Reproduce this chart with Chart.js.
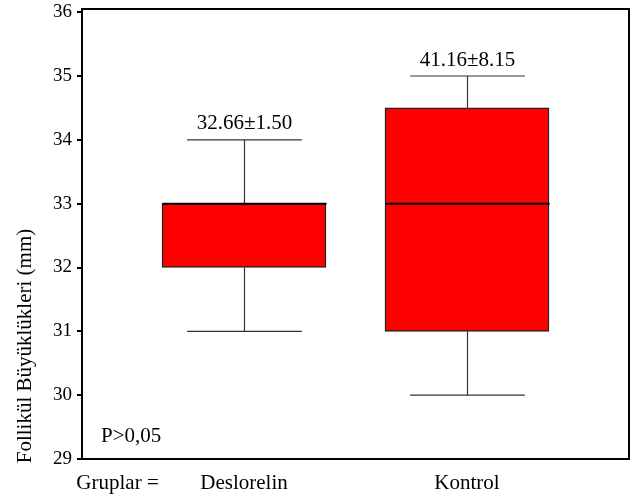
<!DOCTYPE html>
<html>
<head>
<meta charset="utf-8">
<script src="https://cdn.jsdelivr.net/npm/chart.js@4/dist/chart.umd.min.js"></script>
<style>
  html, body { margin: 0; padding: 0; background: #fff; }
  #wrap { width: 632px; height: 498px; }
</style>
</head>
<body>
<div id="wrap"><canvas id="boxChart" width="632" height="498"></canvas></div>
<script>
// Data
const groups = ['Deslorelin', 'Kontrol'];
const groupPos = [1, 2];
const groupPrefix = 'Gruplar =';
const prefixPos = 0.433;
const whiskerLow = [31, 30];
const quart1 = [32, 31];
const medians = [33, 33];
const quart3 = [33, 34.5];
const whiskerHigh = [34, 35];
const meanLabels = ['32.66\u00b11.50', '41.16\u00b18.15'];
const yTicks = [29, 30, 31, 32, 33, 34, 35, 36];
const yTitle = 'Follikül Büyüklükleri (mm)';
const pNote = 'P>0,05';

const FONT = '"Liberation Serif", "Times New Roman", serif';
const BOX_W = 164;

// whiskers, caps, medians, the mean±sd labels and frame
const boxExtras = {
    id: 'boxExtras',
    afterDatasetsDraw(chart) {
        const { ctx, chartArea, scales: { x, y } } = chart;
        ctx.save();

        groupPos.forEach((pos, i) => {
            const cx = Math.round(x.getPixelForValue(pos)) + 0.5;
            const capHalf = BOX_W * 0.35;
            const yLo = y.getPixelForValue(whiskerLow[i]);
            const yQ1 = y.getPixelForValue(quart1[i]);
            const yQ3 = y.getPixelForValue(quart3[i]);
            const yHi = y.getPixelForValue(whiskerHigh[i]);

            ctx.strokeStyle = '#333';
            ctx.lineWidth = 1.2;
            ctx.beginPath();
            ctx.moveTo(cx, yQ1); ctx.lineTo(cx, yLo);
            ctx.moveTo(cx, yQ3); ctx.lineTo(cx, yHi);
            ctx.moveTo(cx - capHalf, yLo); ctx.lineTo(cx + capHalf, yLo);
            ctx.moveTo(cx - capHalf, yHi); ctx.lineTo(cx + capHalf, yHi);
            ctx.stroke();

            // median
            const yMed = y.getPixelForValue(medians[i]);
            ctx.strokeStyle = '#000';
            ctx.lineWidth = 2;
            ctx.beginPath();
            ctx.moveTo(cx - BOX_W / 2, yMed); ctx.lineTo(cx + BOX_W / 2, yMed);
            ctx.stroke();

            // mean ± sd above the upper whisker
            ctx.fillStyle = '#000';
            ctx.font = '21px ' + FONT;
            ctx.textAlign = 'center';
            ctx.textBaseline = 'middle';
            ctx.fillText(meanLabels[i], cx, yHi - 16);
        });

        // top and right frame lines
        ctx.strokeStyle = '#000';
        ctx.lineWidth = 2;
        ctx.beginPath();
        ctx.moveTo(chartArea.left, chartArea.top);
        ctx.lineTo(chartArea.right, chartArea.top);
        ctx.lineTo(chartArea.right, chartArea.bottom);
        ctx.stroke();

        // p-value note
        ctx.font = '21px ' + FONT;
        ctx.textAlign = 'left';
        ctx.textBaseline = 'alphabetic';
        ctx.fillText(pNote, 101, 442);

        // y title, sits lower than the axis centre in the original
        ctx.translate(25, 346);
        ctx.rotate(-Math.PI / 2);
        ctx.textAlign = 'center';
        ctx.textBaseline = 'middle';
        ctx.fillText(yTitle, 0, 0);

        ctx.restore();
    }
};

const ctx = document.getElementById('boxChart').getContext('2d');
const chart = new Chart(ctx, {
    type: 'bar',
    data: {
        datasets: [{
            label: 'IQR',
            data: groupPos.map((pos, i) => ({ x: pos, y: [quart1[i], quart3[i]] })),
            backgroundColor: '#ff0000',
            borderColor: '#222',
            borderWidth: 1.5,
            borderSkipped: false,
            barThickness: BOX_W
        }]
    },
    options: {
        responsive: false,
        animation: false,
        layout: { padding: { top: 0, right: 3, left: 0, bottom: 0 } },
        plugins: {
            legend: { display: false },
            tooltip: { enabled: false }
        },
        scales: {
            x: {
                type: 'linear',
                offset: false,
                min: 0.2735,
                max: 2.7265,
                grid: { display: false, drawTicks: false, offset: false },
                border: { display: true, color: '#000', width: 2 },
                afterBuildTicks(scale) {
                    scale.ticks = [{ value: prefixPos }].concat(groupPos.map(v => ({ value: v })));
                },
                ticks: {
                    color: '#000',
                    padding: 12,
                    maxRotation: 0,
                    autoSkip: false,
                    font: { family: FONT, size: 21 },
                    callback: (value, index) => index === 0 ? groupPrefix : groups[index - 1]
                },
                afterFit(scale) { scale.height = 39; }
            },
            y: {
                min: 29,
                max: 36.05,
                grid: { drawOnChartArea: false, drawTicks: true, tickLength: 5, lineWidth: 2, color: '#000' },
                border: { display: true, color: '#000', width: 2 },
                afterBuildTicks(scale) {
                    scale.ticks = yTicks.map(v => ({ value: v }));
                },
                ticks: {
                    color: '#000',
                    padding: 5,
                    font: { family: FONT, size: 19, lineHeight: 0.42 }
                },
                afterFit(scale) { scale.width = 82; }
            }
        }
    },
    plugins: [boxExtras]
});
</script>
</body>
</html>
